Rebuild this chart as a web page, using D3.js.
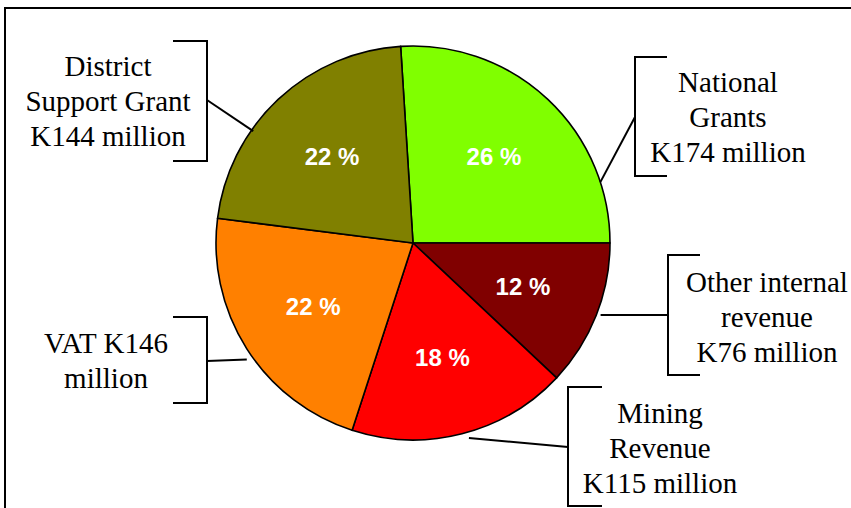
<!DOCTYPE html>
<html>
<head>
<meta charset="utf-8">
<script src="https://cdn.jsdelivr.net/npm/d3@7/dist/d3.min.js"></script>
<style>
  html, body { margin: 0; padding: 0; background: #fff; }
  svg { display: block; }
</style>
</head>
<body>
<svg id="chart" width="851" height="508"></svg>
<script>
// Revenue sources, clockwise from the slice that ends at 3 o'clock
const categories = ["National Grants", "Other internal revenue", "Mining Revenue", "VAT", "District Support Grant"];
const amounts = [174, 76, 115, 146, 144];          // K million
const percents = [26, 12, 18, 22, 22];             // share of total, %
const colors = ["#80FF00", "#800000", "#FF0000", "#FF8000", "#808000"];
const labelLines = [
  ["National", "Grants", "K174 million"],
  ["Other internal", "revenue", "K76 million"],
  ["Mining", "Revenue", "K115 million"],
  ["VAT K146", "million"],
  ["District", "Support Grant", "K144 million"]
];

// Callout layout: text centre, bracket geometry and where the leader meets the pie
const callouts = [
  { tx: 728, ty: 117, side: "left",  bx: 635, arm: 32, top: 57,  bottom: 176, my: 117, anchorDeg: 72,  anchorR: 1.0 },
  { tx: 767, ty: 317, side: "left",  bx: 668, arm: 32, top: 255, bottom: 375, my: 315, anchorDeg: 111, anchorR: 1.02 },
  { tx: 660, ty: 448, side: "left",  bx: 568, arm: 34, top: 387, bottom: 506, my: 447, anchorDeg: 164, anchorR: 1.03 },
  { tx: 106, ty: 360, side: "right", bx: 207, arm: 34, top: 317, bottom: 403, my: 361, anchorDeg: 235, anchorR: 1.03 },
  { tx: 108, ty: 101, side: "right", bx: 207, arm: 34, top: 41,  bottom: 161, my: 100, anchorDeg: 305, anchorR: 0.99 }
];

const svg = d3.select("#chart");
const cx = 413, cy = 243, R = 197;
const lineH = 35;

// Outer frame (runs off the right and bottom edges)
svg.append("rect")
  .attr("x", 5).attr("y", 8)
  .attr("width", 900).attr("height", 600)
  .attr("fill", "none").attr("stroke", "#000").attr("stroke-width", 2);

// First slice is placed so that it closes exactly at 3 o'clock
const rad = Math.PI / 180;
const total = d3.sum(percents);
const start = Math.PI / 2 - (percents[0] / total) * 2 * Math.PI;

const pie = d3.pie().sort(null).value(d => d)
  .startAngle(start).endAngle(start + 2 * Math.PI);
const arcs = pie(percents);
const arc = d3.arc().innerRadius(0).outerRadius(R);
const labelArc = d3.arc().innerRadius(R * 0.6).outerRadius(R * 0.6);

const g = svg.append("g").attr("transform", `translate(${cx},${cy})`);

g.selectAll("path.slice")
  .data(arcs)
  .join("path")
  .attr("class", "slice")
  .attr("d", arc)
  .attr("fill", (d, i) => colors[i])
  .attr("stroke", "#000")
  .attr("stroke-width", 1.6)
  .attr("stroke-linejoin", "round");

// Percentage labels inside the slices
g.selectAll("text.pct")
  .data(arcs)
  .join("text")
  .attr("class", "pct")
  .attr("transform", d => `translate(${labelArc.centroid(d)})`)
  .attr("text-anchor", "middle")
  .attr("dominant-baseline", "central")
  .attr("fill", "#fff")
  .attr("font-family", "'Liberation Sans', Arial, sans-serif")
  .attr("font-weight", "bold")
  .attr("font-size", 24)
  .text((d, i) => `${percents[i]} %`);

// Callouts: bracket, leader line and text
callouts.forEach((c, i) => {
  const a = c.anchorDeg * rad;
  const ax = cx + Math.sin(a) * R * c.anchorR;
  const ay = cy - Math.cos(a) * R * c.anchorR;
  const dir = c.side === "left" ? 1 : -1;

  const bracket = d3.path();
  bracket.moveTo(c.bx + dir * c.arm, c.top);
  bracket.lineTo(c.bx, c.top);
  bracket.lineTo(c.bx, c.bottom);
  bracket.lineTo(c.bx + dir * c.arm, c.bottom);
  svg.append("path")
    .attr("d", bracket.toString())
    .attr("fill", "none").attr("stroke", "#000").attr("stroke-width", 2);

  svg.append("line")
    .attr("x1", c.bx).attr("y1", c.my)
    .attr("x2", ax).attr("y2", ay)
    .attr("stroke", "#000").attr("stroke-width", 2);

  const lines = labelLines[i];
  const t = svg.append("text")
    .attr("text-anchor", "middle")
    .attr("font-family", "'Liberation Serif', 'Times New Roman', serif")
    .attr("font-size", 29)
    .attr("fill", "#000");
  lines.forEach((s, k) => {
    t.append("tspan")
      .attr("x", c.tx)
      .attr("y", c.ty + (k - (lines.length - 1) / 2) * lineH)
      .attr("dominant-baseline", "central")
      .text(s);
  });
});
</script>
</body>
</html>
